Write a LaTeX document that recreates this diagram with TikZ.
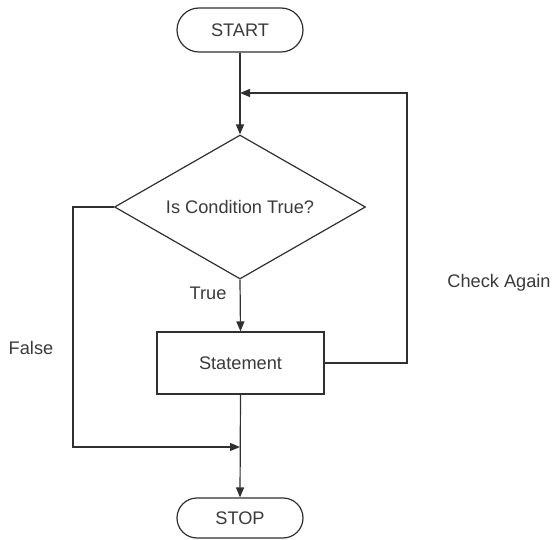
\documentclass[tikz,border=0pt]{standalone}
\usepackage{fontspec}
\setmainfont{Liberation Sans}
\usetikzlibrary{shapes.geometric,shapes.misc,arrows.meta}
\definecolor{ink}{HTML}{303030}
\definecolor{txt}{HTML}{3A3A3A}
\begin{document}
\begin{tikzpicture}[x=1pt,y=-1pt,
  every node/.style={font=\fontsize{18.2}{21}\selectfont, text=txt},
  term/.style={draw=ink, line width=1.2pt, rounded rectangle, minimum width=126pt, inner sep=0pt},
  decis/.style={draw=ink, line width=1.2pt, diamond, aspect=1.74, minimum width=251pt, minimum height=144pt, inner sep=0pt},
  proc/.style={draw=ink, line width=1.2pt, rectangle, minimum width=167pt, minimum height=62pt, inner sep=0pt},
  conn/.style={draw=ink, line width=1.2pt},
  arr/.style={conn, -{Triangle[length=10pt,width=8pt]}}
]
\useasboundingbox (0,0) rectangle (555,540);
\node[term, minimum height=44pt] (start) at (240,30) {START};
\node[decis] (dec) at (240,207) {Is Condition True?};
\node[proc] (stmt) at (240.5,363) {Statement};
\node[term, minimum height=40pt] (stop) at (240,518) {STOP};
\coordinate (j1) at (240,93);
\coordinate (r1) at (407,93);
\coordinate (r2) at (407,363);
\coordinate (f1) at (73,207);
\coordinate (j2) at (240,447);
\draw[arr] (start.south) -- (dec.north);
\draw[arr] (stmt.east) -- (r2) -- (r1) -- (j1);
\draw[arr] (dec.south) -- (stmt.north);
\draw[arr] (dec.west) -- (f1) |- (j2);
\draw[arr] (stmt.south) -- (stop.north);
\node (lt) at (208,293) {True};
\node (lc) at (499,283) {Check Again};
\node (lf) at (31,348) {False};
\end{tikzpicture}
\end{document}
